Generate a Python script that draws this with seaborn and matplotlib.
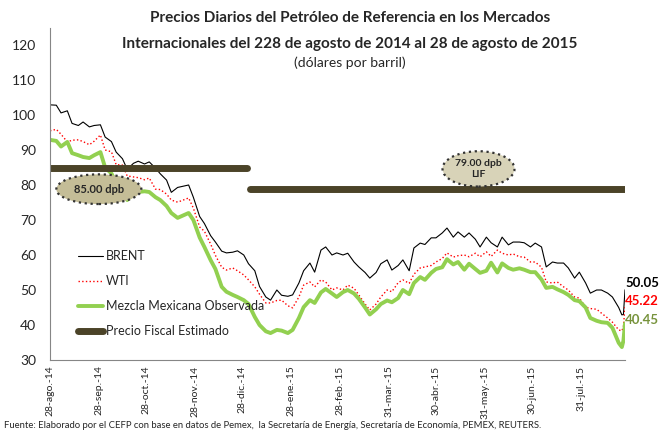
import pandas as pd
import matplotlib
matplotlib.use('Agg')
import matplotlib.pyplot as plt
import seaborn as sns

# Fechas (lunes y jueves) y precios en dolares por barril
fechas = ['2014-08-28', '2014-09-01', '2014-09-04', '2014-09-08', '2014-09-11', '2014-09-15', '2014-09-18',
          '2014-09-22', '2014-09-25', '2014-09-29', '2014-10-02', '2014-10-06', '2014-10-09', '2014-10-13',
          '2014-10-16', '2014-10-20', '2014-10-23', '2014-10-27', '2014-10-30', '2014-11-03', '2014-11-06',
          '2014-11-10', '2014-11-13', '2014-11-17', '2014-11-20', '2014-11-24', '2014-11-27', '2014-12-01',
          '2014-12-04', '2014-12-08', '2014-12-11', '2014-12-15', '2014-12-18', '2014-12-22', '2014-12-25',
          '2014-12-29', '2015-01-01', '2015-01-05', '2015-01-08', '2015-01-12', '2015-01-15', '2015-01-19',
          '2015-01-22', '2015-01-26', '2015-01-29', '2015-02-02', '2015-02-05', '2015-02-09', '2015-02-12',
          '2015-02-16', '2015-02-19', '2015-02-23', '2015-02-26', '2015-03-02', '2015-03-05', '2015-03-09',
          '2015-03-12', '2015-03-16', '2015-03-19', '2015-03-23', '2015-03-26', '2015-03-30', '2015-04-02',
          '2015-04-06', '2015-04-09', '2015-04-13', '2015-04-16', '2015-04-20', '2015-04-23', '2015-04-27',
          '2015-04-30', '2015-05-04', '2015-05-07', '2015-05-11', '2015-05-14', '2015-05-18', '2015-05-21',
          '2015-05-25', '2015-05-28', '2015-06-01', '2015-06-04', '2015-06-08', '2015-06-11', '2015-06-15',
          '2015-06-18', '2015-06-22', '2015-06-25', '2015-06-29', '2015-07-02', '2015-07-06', '2015-07-09',
          '2015-07-13', '2015-07-16', '2015-07-20', '2015-07-23', '2015-07-27', '2015-07-30', '2015-08-03',
          '2015-08-06', '2015-08-10', '2015-08-13', '2015-08-17', '2015-08-20', '2015-08-24', '2015-08-26',
          '2015-08-27', '2015-08-28']

brent = [102.9,
         102.8, 100.6, 101.2, 97.6, 97.0, 98.0, 96.6, 97.0, 97.2,
         93.7, 92.4, 89.4, 87.5, 84.5, 86.2, 86.8, 86.0, 86.6,
         84.8, 83.2, 81.4, 77.9, 79.3, 79.6, 80.0, 76.5,
         71.0, 69.0, 65.5, 63.7, 61.1, 60.6, 60.8, 61.2, 60.0,
         57.5, 55.5, 51.0, 48.0, 47.1, 50.0, 48.5, 48.2, 48.6,
         52.0, 55.5, 57.7, 55.1, 61.4, 62.3, 60.0, 60.6,
         60.0, 60.5, 58.0, 56.6, 55.0, 53.4, 55.0, 57.5, 58.6,
         55.7, 57.0, 58.6, 55.5, 62.0, 63.4, 63.0, 64.9, 64.9,
         66.3, 67.7, 65.1, 66.6, 65.1, 66.3, 64.5, 62.3,
         65.1, 63.5, 62.3, 65.1, 62.9, 63.7, 63.7, 63.5, 62.3,
         63.4, 62.3, 56.6, 58.0, 57.7, 57.7, 56.3, 53.4, 55.1,
         52.0, 49.1, 50.0, 50.0, 49.1, 48.0, 45.0, 42.9, 43.0, 50.05]

wti = [95.5,
       95.9, 94.5, 92.3, 92.8, 92.9, 92.4, 91.5, 92.5, 94.3,
       90.0, 89.5, 85.8, 85.7, 82.6, 82.3, 82.1, 81.5, 82.0,
       78.8, 78.7, 77.4, 75.7, 75.1, 75.6, 76.3, 73.4,
       68.0, 66.8, 63.1, 59.9, 56.5, 55.7, 56.3, 55.5, 54.3,
       52.9, 50.9, 48.8, 46.3, 46.3, 47.0, 47.1, 45.5, 44.9,
       48.0, 51.4, 52.3, 50.9, 52.9, 52.3, 50.0, 50.6,
       50.0, 51.4, 50.5, 48.6, 46.0, 44.3, 46.0, 48.0, 50.0,
       49.5, 52.1, 52.9, 51.9, 54.5, 56.3, 56.6, 57.0, 58.0,
       59.0, 60.6, 59.4, 59.8, 60.0, 59.5, 60.5, 59.5,
       60.9, 59.6, 61.4, 60.5, 60.0, 60.3, 59.5, 59.4, 58.0,
       58.0, 56.5, 52.3, 52.0, 52.3, 50.9, 50.0, 48.0, 47.7,
       45.1, 44.7, 44.5, 43.4, 42.0, 40.8, 38.6, 38.3, 39.5, 45.22]

mezcla = [92.9,
          92.6, 91.0, 92.3, 89.1, 88.5, 88.0, 87.7, 88.5, 89.4,
          85.0, 83.3, 80.5, 78.0, 75.7, 77.7, 78.0, 78.2, 78.0,
          76.5, 75.7, 74.0, 72.0, 70.6, 71.2, 72.0, 70.0,
          65.0, 62.3, 58.5, 56.0, 50.9, 49.5, 48.6, 48.0, 47.1,
          46.0, 42.3, 40.0, 38.2, 37.7, 38.6, 38.4, 37.7, 38.6,
          42.0, 45.1, 47.1, 46.3, 49.3, 50.3, 49.0, 48.0,
          49.4, 50.0, 49.0, 47.5, 45.0, 43.0, 44.5, 46.0, 47.0,
          46.5, 47.7, 50.0, 48.8, 52.0, 53.7, 52.9, 54.9, 56.0,
          56.5, 58.8, 57.3, 58.0, 55.8, 57.5, 56.0, 54.9,
          55.5, 57.8, 55.0, 57.6, 56.3, 55.8, 56.2, 55.8, 55.1,
          55.1, 53.0, 50.6, 50.9, 50.2, 49.4, 48.6, 47.1, 46.8,
          45.0, 42.0, 41.2, 40.8, 40.6, 39.2, 34.9, 33.7, 35.5, 40.45]

# Precio fiscal estimado (dos tramos)
fiscal_fechas_2014 = ['2014-08-28', '2014-12-31']
fiscal_2014 = [85, 85]
fiscal_fechas_2015 = ['2015-01-02', '2015-08-28']
fiscal_2015 = [79, 79]

tick_fechas = ['2014-08-28', '2014-09-28', '2014-10-28', '2014-11-28', '2014-12-28', '2015-01-28',
               '2015-02-28', '2015-03-31', '2015-04-30', '2015-05-31', '2015-06-30', '2015-07-31']
tick_labels = ['28-ago.-14', '28-sep.-14', '28-oct.-14', '28-nov.-14', '28-dic.-14', '28-ene.-15',
               '28-feb.-15', '31-mar.-15', '30-abr.-15', '31-may.-15', '30-jun.-15', '31-jul.-15']

sns.set_style('white')
plt.rcParams['font.family'] = ['Lato', 'DejaVu Sans']

fig = plt.figure(figsize=(6.7, 4.32), dpi=100)
ax = fig.add_axes([50 / 670, 1 - 360 / 432, 575 / 670, (360 - 27.5) / 432])

x = pd.to_datetime(fechas)
sns.lineplot(x=x, y=brent, ax=ax, color='black', linewidth=0.8, label='BRENT')
sns.lineplot(x=x, y=wti, ax=ax, color='#ff0000', linewidth=1.0, linestyle=':', label='WTI')
sns.lineplot(x=x, y=mezcla, ax=ax, color='#92d050', linewidth=2.8, label='Mezcla Mexicana Observada')
sns.lineplot(x=pd.to_datetime(fiscal_fechas_2014), y=fiscal_2014, ax=ax, color='#4b4328',
             linewidth=5, solid_capstyle='round', label='Precio Fiscal Estimado')
sns.lineplot(x=pd.to_datetime(fiscal_fechas_2015), y=fiscal_2015, ax=ax, color='#4b4328',
             linewidth=5, solid_capstyle='round')

ax.set_xlim(pd.Timestamp('2014-08-28'), pd.Timestamp('2015-08-28'))
ax.set_ylim(30, 125)
ax.set_yticks(range(30, 121, 10))
ax.set_xticks(pd.to_datetime(tick_fechas))
ax.set_xticklabels(tick_labels, rotation=90, fontsize=7.5)
ax.tick_params(axis='y', labelsize=10, length=0, pad=10)
ax.tick_params(axis='x', length=0, pad=4)
ax.set_xlabel('')
ax.set_ylabel('')
for s in ['top', 'right']:
    ax.spines[s].set_visible(False)
for s in ['left', 'bottom']:
    ax.spines[s].set_color('#868686')
    ax.spines[s].set_linewidth(0.8)

ax.legend(loc='upper left', bbox_to_anchor=(78 / 670, 1 - 250 / 432), bbox_transform=fig.transFigure,
          frameon=False, fontsize=9, handlelength=2.0, handletextpad=0.2, labelspacing=1.05,
          borderpad=0, borderaxespad=0)

# Globos de precio fiscal
ax.text(pd.Timestamp('2014-09-28'), 78.8, '85.00 dpb', ha='center', va='center', fontsize=8,
        fontweight='bold', zorder=6,
        bbox=dict(boxstyle='ellipse,pad=0.45', fc='#c4bd97', ec='#333333', ls=':', lw=1.6))
ax.text(pd.Timestamp('2015-05-27'), 84.6, '79.00 dpb\nLIF', ha='center', va='center', fontsize=7.5,
        fontweight='bold', zorder=6, linespacing=1.4,
        bbox=dict(boxstyle='ellipse,pad=0.2', fc='#d8d3b8', ec='#333333', ls=':', lw=1.6))

# Ultimos valores
fin = pd.Timestamp(fechas[-1])
ax.annotate(f'{brent[-1]:.2f}', xy=(fin, 52.0), xytext=(0, 0), textcoords='offset points',
            fontsize=9.5, fontweight='bold', color='black', va='center', annotation_clip=False)
ax.annotate(f'{wti[-1]:.2f}', xy=(fin, 46.9), xytext=(0, 0), textcoords='offset points',
            fontsize=9.5, fontweight='bold', color='#ff0000', va='center', annotation_clip=False)
ax.annotate(f'{mezcla[-1]:.2f}', xy=(fin, 41.4), xytext=(0, 0), textcoords='offset points',
            fontsize=9.5, fontweight='bold', color='#77933c', va='center', annotation_clip=False)

fig.text(0.522, 1 - 18 / 432, 'Precios Diarios del Petróleo de Referencia en los Mercados',
         ha='center', va='center', fontsize=11, fontweight='bold')
fig.text(0.522, 1 - 44 / 432, 'Internacionales del 228 de agosto de 2014 al 28 de agosto de 2015',
         ha='center', va='center', fontsize=11, fontweight='bold')
fig.text(0.522, 1 - 63 / 432, '(dólares por barril)', ha='center', va='center', fontsize=10)

fig.text(4 / 670, 1 - 426 / 432,
         'Fuente: Elaborado por el CEFP con base en datos de Pemex,  la Secretaría de Energía, '
         'Secretaría de Economía, PEMEX, REUTERS.', ha='left', va='center', fontsize=6.8)

fig.savefig('out.png', dpi=100)
